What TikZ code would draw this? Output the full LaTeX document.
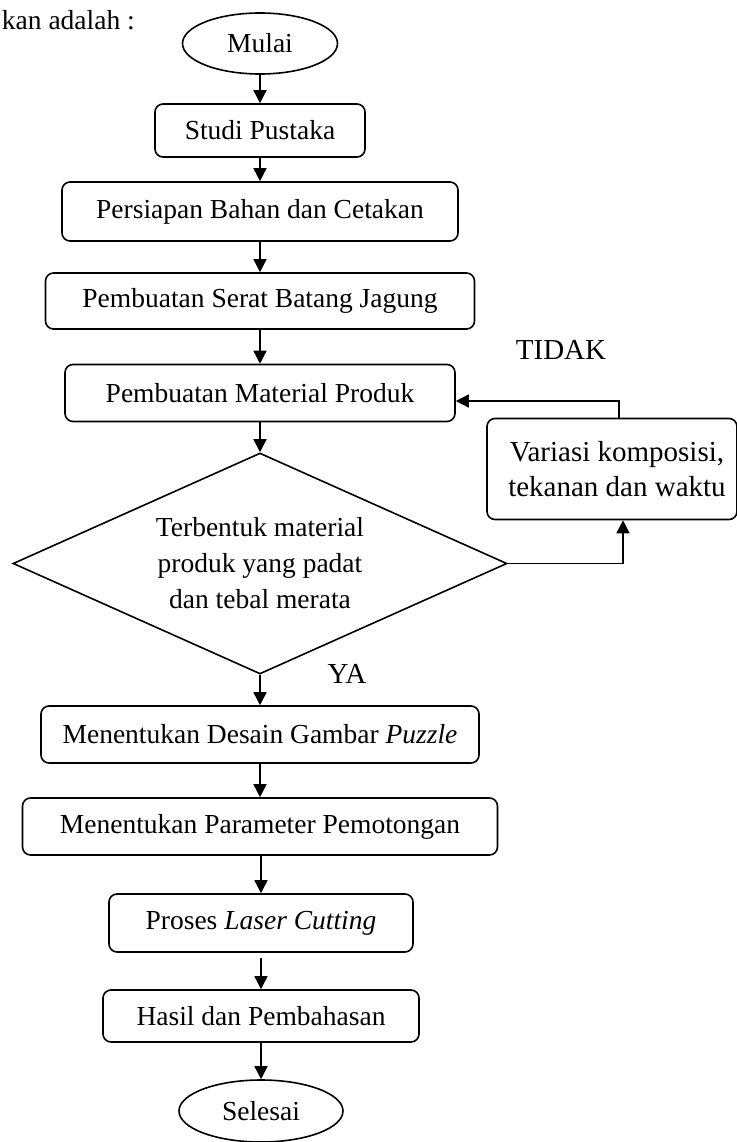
\documentclass[tikz,border=0pt]{standalone}
\usepackage{fontspec}
\setmainfont{Liberation Serif}
\usetikzlibrary{shapes.geometric,arrows.meta}
\begin{document}
\begin{tikzpicture}[x=1pt,y=-1pt,
  font=\fontsize{27.5}{36}\selectfont,
  box/.style={draw, rounded corners=8pt, line width=1.6pt, inner sep=0pt, align=center},
  term/.style={draw, ellipse, line width=1.6pt, inner sep=0pt},
  decision/.style={draw, diamond, line width=1.6pt, inner sep=0pt, align=center, aspect=2.24},
  arr/.style={line width=1.6pt, -{Triangle[length=13pt,width=13pt]}},
  lbl/.style={inner sep=0pt, font=\fontsize{29}{36}\selectfont}]
\useasboundingbox (0,0) rectangle (736,1142);

\node[anchor=base east, inner sep=0pt] (intro) at (135,30) {kan adalah :};

\node[term, minimum width=155pt, minimum height=61pt] (mulai) at (260,43.5) {Mulai};
\node[box, minimum width=210pt, minimum height=53pt] (studi) at (260,130.5) {Studi Pustaka};
\node[box, minimum width=396pt, minimum height=59pt] (persiapan) at (260,211.5) {Persiapan Bahan dan Cetakan};
\node[box, minimum width=429pt, minimum height=56pt] (serat) at (260,301) {Pembuatan Serat Batang Jagung};
\node[box, minimum width=390pt, minimum height=57pt] (material) at (260,393) {Pembuatan Material Produk};
\node[decision, minimum width=494pt, minimum height=221pt] (cek) at (260,563.5)
  {\rule{0pt}{12pt}Terbentuk material\\produk yang padat\\dan tebal merata};
\node[box, minimum width=250pt, minimum height=101pt, font=\fontsize{29}{35}\selectfont] (variasi) at (612,469)
  {\hspace*{10pt}Variasi komposisi,\\\hspace*{10pt}tekanan dan waktu};
\node[box, minimum width=438pt, minimum height=57pt] (desain) at (260,734.5) {Menentukan Desain Gambar \textit{Puzzle}};
\node[box, minimum width=475pt, minimum height=57pt] (parameter) at (260,826.5) {Menentukan Parameter Pemotongan};
\node[box, minimum width=304pt, minimum height=58pt] (laser) at (261,923) {Proses \textit{Laser Cutting}};
\node[box, minimum width=316pt, minimum height=52pt] (hasil) at (261,1016) {Hasil dan Pembahasan};
\node[term, minimum width=164pt, minimum height=62pt] (selesai) at (261,1111) {Selesai};

\node[lbl] (tidak) at (561,350) {TIDAK};
\node[lbl] (ya) at (347,674) {YA};

\draw[arr] (mulai) -- (studi);
\draw[arr] (studi) -- (persiapan);
\draw[arr] (persiapan) -- (serat);
\draw[arr] (serat) -- (material);
\draw[arr] (material) -- (cek);
\draw[arr] (cek) -- (desain);
\draw[arr] (desain) -- (parameter);
\draw[arr] (parameter.south -| laser) -- (laser);
\draw[arr, shorten <=5pt] (laser) -- (hasil);
\draw[arr] (hasil) -- (selesai);
\draw[arr] (cek.east) -| ([xshift=11pt]variasi.south);
\draw[arr] ([xshift=7pt]variasi.north) |- ([yshift=-8pt]material.east);
\end{tikzpicture}
\end{document}
